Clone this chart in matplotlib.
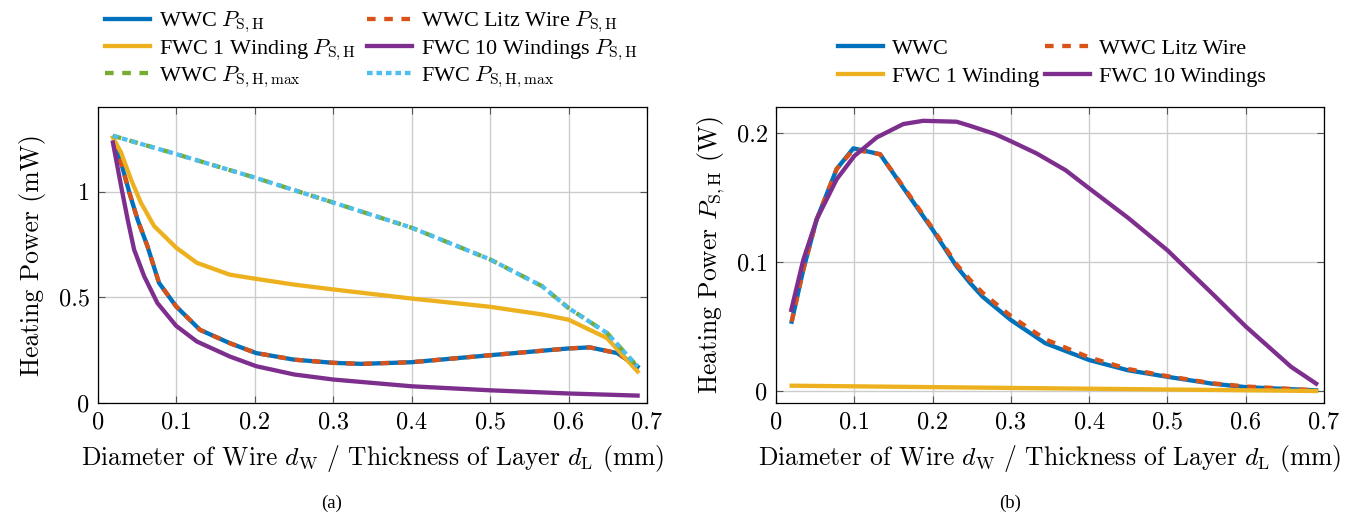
import matplotlib
matplotlib.use("Agg")
import matplotlib.pyplot as plt
from matplotlib.lines import Line2D

plt.rcParams['mathtext.fontset'] = 'cm'
plt.rcParams['axes.formatter.use_mathtext'] = True
plt.rcParams['font.family'] = ['Liberation Serif', 'DejaVu Serif']

# ---------------- data (a) : mW ----------------
a_wwc_x = [0.02, 0.0294, 0.04, 0.0504, 0.063, 0.0778, 0.0996, 0.130, 0.168, 0.2018, 0.25, 0.3, 0.336, 0.4, 0.5, 0.6, 0.627, 0.662, 0.688]
a_wwc_y = [1.232, 1.137, 0.995, 0.868, 0.742, 0.568, 0.457, 0.346, 0.283, 0.236, 0.205, 0.19, 0.185, 0.193, 0.226, 0.258, 0.263, 0.236, 0.172]
a_litz_y = a_wwc_y

a_fwc1_x = [0.019, 0.0294, 0.042, 0.0546, 0.0715, 0.0996, 0.126, 0.168, 0.2018, 0.25, 0.3, 0.4, 0.5, 0.566, 0.6, 0.649, 0.688]
a_fwc1_y = [1.256, 1.185, 1.058, 0.948, 0.837, 0.735, 0.663, 0.607, 0.587, 0.56, 0.537, 0.494, 0.455, 0.419, 0.394, 0.307, 0.149]

a_fwc10_x = [0.019, 0.0294, 0.0378, 0.046, 0.0588, 0.0757, 0.0996, 0.126, 0.168, 0.2018, 0.25, 0.3, 0.4, 0.5, 0.6, 0.688]
a_fwc10_y = [1.232, 1.027, 0.868, 0.726, 0.600, 0.473, 0.365, 0.291, 0.220, 0.174, 0.135, 0.111, 0.079, 0.060, 0.045, 0.035]

a_max_x = [0.019, 0.1, 0.2, 0.3, 0.4, 0.5, 0.566, 0.6, 0.649, 0.688]
a_wwcmax_y = [1.264, 1.177, 1.066, 0.948, 0.829, 0.679, 0.553, 0.449, 0.331, 0.172]
a_fwcmax_y = [1.264, 1.177, 1.066, 0.948, 0.829, 0.679, 0.553, 0.449, 0.331, 0.172]

# ---------------- data (b) : W ----------------
b_wwc_x = [0.02, 0.0349, 0.052, 0.0775, 0.0988, 0.133, 0.167, 0.2, 0.2307, 0.248, 0.264, 0.3, 0.344, 0.4, 0.45, 0.5, 0.557, 0.6, 0.69]
b_wwc_y = [0.0537, 0.094, 0.133, 0.172, 0.188, 0.1834, 0.1536, 0.125, 0.0965, 0.0836, 0.073, 0.055, 0.037, 0.024, 0.016, 0.011, 0.0057, 0.003, 0.0005]
b_litz_y = [0.0537, 0.094, 0.133, 0.172, 0.187, 0.1834, 0.1546, 0.126, 0.098, 0.086, 0.076, 0.058, 0.040, 0.026, 0.017, 0.0115, 0.006, 0.0035, 0.0005]

b_fwc1_x = [0.02, 0.69]
b_fwc1_y = [0.0041, 0.0]

b_fwc10_x = [0.0195, 0.0349, 0.052, 0.0775, 0.1, 0.1286, 0.1626, 0.188, 0.2307, 0.248, 0.28, 0.3, 0.333, 0.37, 0.4, 0.45, 0.5, 0.557, 0.6, 0.658, 0.69]
b_fwc10_y = [0.0628, 0.1017, 0.133, 0.164, 0.182, 0.1964, 0.2068, 0.2093, 0.2086, 0.2054, 0.199, 0.1935, 0.184, 0.171, 0.157, 0.134, 0.109, 0.0756, 0.050, 0.0187, 0.0057]

xticks = [0, 0.1, 0.2, 0.3, 0.4, 0.5, 0.6, 0.7]
xtick_labels = ['0', '0.1', '0.2', '0.3', '0.4', '0.5', '0.6', '0.7']
a_yticks = [0, 0.5, 1]
a_ytick_labels = ['0', '0.5', '1']
b_yticks = [0, 0.1, 0.2]
b_ytick_labels = ['0', '0.1', '0.2']

C_BLUE = '#0072BD'
C_ORANGE = '#D95319'
C_YELLOW = '#EDB120'
C_PURPLE = '#7E2F8E'
C_GREEN = '#77AC30'
C_LBLUE = '#4DBEEE'

LW = 3.1
DASH = (0, (2.0, 2.0))
DASH_G = (0, (2.0, 2.0))
DOT = (0, (1.3, 0.9))

W, H = 1346, 514
fig = plt.figure(figsize=(W / 100, H / 100), dpi=100)

def px_axes(x0, x1, y0, y1):
    return fig.add_axes([x0 / W, 1 - y1 / H, (x1 - x0) / W, (y1 - y0) / H])

axA = px_axes(98, 647, 107, 403)
axB = px_axes(776, 1324, 107, 403)

tickfont = dict(family='cmr10', size=17.5)
labfont = dict(family='cmr10', size=18.4)

for ax in (axA, axB):
    ax.set_xlim(0, 0.7)
    ax.set_xticks(xticks)
    ax.set_xticklabels(xtick_labels, fontdict=tickfont)
    ax.grid(True, color='#cccccc', linewidth=1.0)
    ax.set_axisbelow(True)
    ax.tick_params(direction='in', length=5, width=0.8, color='#555555', top=True, right=True, pad=6)
    for s in ax.spines.values():
        s.set_linewidth(0.9)
    ax.set_xlabel(r'Diameter of Wire $d_\mathrm{W}$ / Thickness of Layer $d_\mathrm{L}$ (mm)',
                  fontdict=labfont, labelpad=7)

# (a)
axA.set_ylim(0, 1.4)
axA.set_yticks(a_yticks)
axA.set_yticklabels(a_ytick_labels, fontdict=tickfont)
axA.set_ylabel('Heating Power (mW)', fontdict=labfont, labelpad=9)
axA.plot(a_wwc_x, a_wwc_y, color=C_BLUE, lw=LW)
axA.plot(a_wwc_x, a_litz_y, color=C_ORANGE, lw=LW, ls=DASH)
axA.plot(a_fwc1_x, a_fwc1_y, color=C_YELLOW, lw=LW)
axA.plot(a_fwc10_x, a_fwc10_y, color=C_PURPLE, lw=LW)
axA.plot(a_max_x, a_wwcmax_y, color=C_GREEN, lw=LW, ls=DASH_G)
axA.plot(a_max_x, a_fwcmax_y, color=C_LBLUE, lw=LW, ls=DOT)

# (b)
axB.set_ylim(-0.0093, 0.22)
axB.set_yticks(b_yticks)
axB.set_yticklabels(b_ytick_labels, fontdict=tickfont)
axB.set_ylabel(r'Heating Power $P_{\mathrm{S,H}}$ (W)', fontdict=labfont, labelpad=7)
axB.plot(b_wwc_x, b_wwc_y, color=C_BLUE, lw=LW)
axB.plot(b_wwc_x, b_litz_y, color=C_ORANGE, lw=LW, ls=DASH)
axB.plot(b_fwc1_x, b_fwc1_y, color=C_YELLOW, lw=LW)
axB.plot(b_fwc10_x, b_fwc10_y, color=C_PURPLE, lw=LW)

legfont = {'family': ['Liberation Serif'], 'size': 16}

hA = [Line2D([], [], color=C_BLUE, lw=LW),
      Line2D([], [], color=C_YELLOW, lw=LW),
      Line2D([], [], color=C_GREEN, lw=LW, ls=DASH_G),
      Line2D([], [], color=C_ORANGE, lw=LW, ls=DASH),
      Line2D([], [], color=C_PURPLE, lw=LW),
      Line2D([], [], color=C_LBLUE, lw=LW, ls=DOT)]
lA = [r'WWC $P_{\mathrm{S,H}}$', r'FWC 1 Winding $P_{\mathrm{S,H}}$', r'WWC $P_{\mathrm{S,H,max}}$',
      r'WWC Litz Wire $P_{\mathrm{S,H}}$', r'FWC 10 Windings $P_{\mathrm{S,H}}$', r'FWC $P_{\mathrm{S,H,max}}$']
fig.legend(hA, lA, ncol=2, loc='upper left', bbox_to_anchor=(105 / W, 1 - 10 / H),
           frameon=False, prop=legfont, handlelength=2.03, handletextpad=0.4,
           columnspacing=0.5, labelspacing=0.08, borderpad=0, borderaxespad=0)

hB = [Line2D([], [], color=C_BLUE, lw=LW),
      Line2D([], [], color=C_YELLOW, lw=LW),
      Line2D([], [], color=C_ORANGE, lw=LW, ls=DASH),
      Line2D([], [], color=C_PURPLE, lw=LW)]
lB = ['WWC', 'FWC 1 Winding', 'WWC Litz Wire', 'FWC 10 Windings']
fig.legend(hB, lB, ncol=2, loc='upper left', bbox_to_anchor=(838 / W, 1 - 38 / H),
           frameon=False, prop=legfont, handlelength=2.03, handletextpad=0.4,
           columnspacing=0.25, labelspacing=0.35, borderpad=0, borderaxespad=0)

fig.text(332 / W, 1 - 503 / H, '(a)', ha='center', va='center', fontsize=13.5, family='Liberation Serif')
fig.text(1010 / W, 1 - 503 / H, '(b)', ha='center', va='center', fontsize=13.5, family='Liberation Serif')

fig.savefig('out.png', dpi=100)
